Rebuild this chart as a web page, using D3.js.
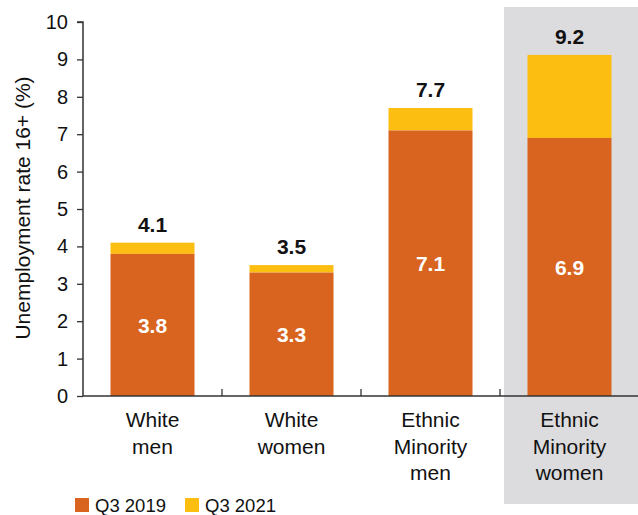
<!DOCTYPE html>
<html><head><meta charset="utf-8">
<script src="https://cdn.jsdelivr.net/npm/d3@7"></script>
<style>body{margin:0;background:#fff}svg{display:block;font-family:"Liberation Sans",Arial,Helvetica,sans-serif}</style>
</head><body><svg id="c" width="638" height="515"></svg>
<script>
const categories = [["White","men"],["White","women"],["Ethnic","Minority","men"],["Ethnic","Minority","women"]];
const q2019 = [3.8, 3.3, 7.1, 6.9];
const q2021 = [4.1, 3.5, 7.7, 9.12];
const totalLabels = ["4.1","3.5","7.7","9.2"];
const seriesNames = ["Q3 2019","Q3 2021"];
const colors = ["#D8641F","#FDBE12"];
const yTicks = [0,1,2,3,4,5,6,7,8,9,10];
const highlightIndex = 3;

(function(){
const svg = d3.select("#c");
const mL = 83, mR = 639, mT = 22, mB = 396;
const x = d3.scaleBand().domain(d3.range(categories.length)).range([mL, mR]).paddingInner(0).paddingOuter(0);
const bw = 84;
const y = d3.scaleLinear().domain([0,10]).range([mB, mT]);

// highlight box
svg.append("rect").attr("x", x(highlightIndex)+4).attr("y", 7)
  .attr("width", 638 - x(highlightIndex) - 4).attr("height", 497)
  .attr("fill", "#DCDCDE");

const cx = i => x(i) + x.bandwidth()/2;

// bars
categories.forEach((c,i) => {
  svg.append("rect").attr("x", cx(i)-bw/2).attr("width", bw)
    .attr("y", y(q2021[i])).attr("height", y(q2019[i]) - y(q2021[i])).attr("fill", colors[1]);
  svg.append("rect").attr("x", cx(i)-bw/2).attr("width", bw)
    .attr("y", y(q2019[i])).attr("height", y(0) - y(q2019[i])).attr("fill", colors[0]);
  svg.append("text").attr("x", cx(i)).attr("y", (y(0)+y(q2019[i]))/2 + 8)
    .attr("text-anchor","middle").attr("fill","#fff").attr("font-weight","bold")
    .attr("font-size", 21).text(q2019[i].toFixed(1));
  svg.append("text").attr("x", cx(i)).attr("y", y(q2021[i]) - 11)
    .attr("text-anchor","middle").attr("fill","#111").attr("font-weight","bold")
    .attr("font-size", 21).text(totalLabels[i]);
});

// y axis
const ya = svg.append("g").attr("transform", `translate(${mL},0)`)
  .call(d3.axisLeft(y).tickValues(yTicks).tickSize(6).tickPadding(9).tickFormat(d3.format("d")));
ya.select(".domain").attr("stroke","#333").attr("stroke-width",1.5).attr("d", `M-6,${mT}H0V${mB}`);
ya.selectAll(".tick line").attr("stroke","#333").attr("stroke-width",1.3);
ya.selectAll(".tick text").attr("font-size",20).attr("fill","#111").attr("font-family","Liberation Sans, Arial, sans-serif");

// x axis
const xa = svg.append("g").attr("transform", `translate(0,${mB})`);
xa.append("line").attr("x1", mL).attr("x2", 638).attr("y1",0).attr("y2",0).attr("stroke","#333").attr("stroke-width",1.5);
d3.range(1, categories.length).forEach(i => {
  xa.append("line").attr("x1", x(i)).attr("x2", x(i)).attr("y1",0).attr("y2",-7).attr("stroke","#333").attr("stroke-width",1.3);
});
categories.forEach((c,i) => {
  const t = svg.append("text").attr("x", cx(i)).attr("y", 427).attr("text-anchor","middle")
    .attr("font-size",21).attr("fill","#111");
  c.forEach((line,k) => t.append("tspan").attr("x", cx(i)).attr("dy", k===0?0:26.5).text(line));
});

// y title
svg.append("text").attr("transform", "translate(30,208) rotate(-90)").attr("text-anchor","middle")
  .attr("font-size",21).attr("fill","#111").text("Unemployment rate 16+ (%)");

// legend
const lx = [75, 185];
seriesNames.forEach((s,i) => {
  svg.append("rect").attr("x", lx[i]).attr("y", 498).attr("width",14).attr("height",14).attr("fill", colors[i]);
  svg.append("text").attr("x", lx[i]+20).attr("y", 511.5).attr("font-size",18.5).attr("fill","#111").text(s);
});
})();
</script></body></html>
